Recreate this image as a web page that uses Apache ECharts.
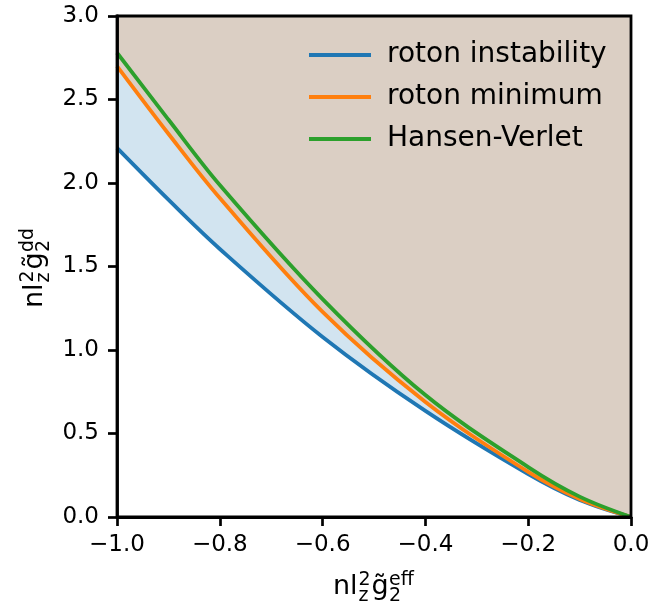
<!DOCTYPE html>
<html>
<head>
<meta charset="utf-8">
<script src="https://cdn.jsdelivr.net/npm/echarts@6/dist/echarts.min.js"></script>
<style>html,body{margin:0;padding:0;background:#fff;}#c{width:656px;height:607px;}</style>
</head>
<body>
<div id="c"></div>
<script>
// Data
var xs = [-1.0, -0.9, -0.8, -0.6, -0.4, -0.2, -0.1, 0.0];
var rotonInstability = [2.21, 1.90, 1.605, 1.078, 0.635, 0.257, 0.102, 0.0];
var rotonMinimum     = [2.70, 2.295, 1.91, 1.228, 0.689, 0.270, 0.108, 0.0];
var hansenVerlet     = [2.78, 2.38, 1.988, 1.305, 0.730, 0.299, 0.122, 0.0];
var xTicks = [-1.0, -0.8, -0.6, -0.4, -0.2, 0.0];
var yTicks = [0.0, 0.5, 1.0, 1.5, 2.0, 2.5, 3.0];
var seriesNames = ['roton instability', 'roton minimum', 'Hansen-Verlet'];

function pairs(ys) { return xs.map(function (x, i) { return [x, ys[i]]; }); }

var FONT = 'DejaVu Sans';
var C_BLUE = '#1f77b4', C_ORANGE = '#ff7f0e', C_GREEN = '#2ca02c';
var SMOOTH = 0.35;

function fmt(v) { return v.toFixed(1).replace('-', '\u2212'); }

function mathLabel(sup, opts) {
  var F = 27, s = 19;
  function t(str, x, base, size) {
    return { type: 'text', x: x, y: base - 0.36 * size,
      style: { text: str, font: size + 'px "' + FONT + '"', fill: '#000', align: 'left', verticalAlign: 'middle' } };
  }
  var children = [
    t('nl', 0, 0, F),
    t('2', 25.5, -10.5, s),
    t('z', 25.5, 6, s),
    t('g\u0303', 38.5, 0, F),
    t(sup, 56, -10.5, s),
    t('2', 56, 6, s)
  ];
  return Object.assign({ type: 'group', children: children }, opts);
}

var chart = echarts.init(document.getElementById('c'), null, { renderer: 'canvas' });
var lineCommon = { type: 'line', smooth: SMOOTH, showSymbol: false, symbol: 'none' };
function s(o) { return Object.assign({}, lineCommon, o); }

chart.setOption({
  animation: false,
  backgroundColor: '#fff',
  grid: { left: 117, right: 25, top: 16, bottom: 90, containLabel: false,
          show: true, borderColor: '#000', borderWidth: 2.8, backgroundColor: 'transparent', z: 10 },
  legend: {
    data: seriesNames,
    orient: 'vertical',
    left: 304, top: 36,
    icon: 'rect', itemWidth: 62, itemHeight: 4, itemGap: 14,
    textStyle: { fontFamily: FONT, fontSize: 28, color: '#000', lineHeight: 28, padding: [0, 0, 0, 11] }
  },
  xAxis: {
    type: 'value', min: -1.0, max: 0.0, interval: 0.2, position: 'bottom', z: 10,
    axisLine: { show: true, onZero: false, lineStyle: { color: '#000', width: 2.8 } },
    axisTick: { show: true, inside: false, length: 9, lineStyle: { color: '#000', width: 2.7 } },
    axisLabel: { show: true, margin: 17, fontFamily: FONT, fontSize: 23, color: '#000', formatter: fmt },
    splitLine: { show: false }, minorTick: { show: false }, minorSplitLine: { show: false }
  },
  yAxis: {
    type: 'value', min: 0, max: 3.0, interval: 0.5, position: 'left', z: 10,
    axisLine: { show: true, onZero: false, lineStyle: { color: '#000', width: 2.8 } },
    axisTick: { show: true, inside: false, length: 9, lineStyle: { color: '#000', width: 2.7 } },
    axisLabel: { show: true, margin: 18, fontFamily: FONT, fontSize: 23, color: '#000', formatter: function (v) { return v.toFixed(1); } },
    splitLine: { show: false }, minorTick: { show: false }, minorSplitLine: { show: false }
  },
  series: [
    s({ name: 'fillAbove', data: pairs(rotonMinimum), lineStyle: { width: 0 },
        areaStyle: { color: '#dbcfc4', opacity: 1, origin: 'end' }, z: 1, silent: true }),
    s({ name: 'fillBetween', data: pairs(rotonMinimum), lineStyle: { width: 0 },
        areaStyle: { color: '#d2e4f0', opacity: 1, origin: 'start' }, z: 1, silent: true }),
    s({ name: 'fillBelow', data: pairs(rotonInstability), lineStyle: { width: 0 },
        areaStyle: { color: '#ffffff', opacity: 1, origin: 'start' }, z: 1.5, silent: true }),
    s({ name: seriesNames[0], data: pairs(rotonInstability), color: C_BLUE, lineStyle: { color: C_BLUE, width: 3.8 }, z: 3 }),
    s({ name: seriesNames[1], data: pairs(rotonMinimum), color: C_ORANGE, lineStyle: { color: C_ORANGE, width: 3.8 }, z: 4 }),
    s({ name: seriesNames[2], data: pairs(hansenVerlet), color: C_GREEN, lineStyle: { color: C_GREEN, width: 3.8 }, z: 5 })
  ],
  graphic: [
    mathLabel('eff', { x: 333, y: 597 }),
    mathLabel('dd', { x: 45, y: 308, rotation: Math.PI / 2 })
  ]
});
</script>
</body>
</html>
